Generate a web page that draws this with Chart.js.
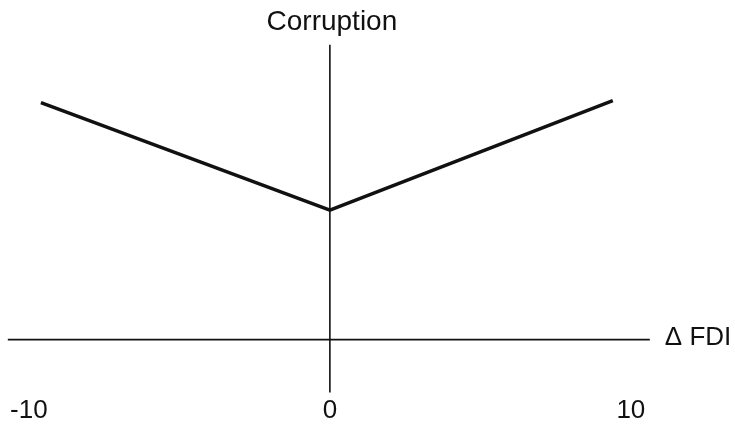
<!DOCTYPE html>
<html>
<head>
<meta charset="utf-8">
<script src="https://cdn.jsdelivr.net/npm/chart.js@4.4.1/dist/chart.umd.min.js"></script>
<style>
  html, body { margin: 0; padding: 0; background: #fff; }
  #wrap { width: 735px; height: 429px; }
</style>
</head>
<body>
<div id="wrap"><canvas id="fdiChart"></canvas></div>
<script>
// Corruption vs change in FDI - V shaped sketch
const curveX = [-9.6, 0, 9.4];
const curveY = [23.8, 13.0, 24.0];

// axis lines drawn as plain segments through the origin
const hAxisX = [-10.7, 10.63];
const hAxisY = [0, 0];
const vAxisX = [0, 0];
const vAxisY = [-5.3, 29.6];

const tickValues = [-10, 0, 10];
const yTitle = "Corruption";
const xTitle = "\u0394 FDI";

const fontFamily = "'Liberation Sans', Arial, Helvetica, sans-serif";

function toPoints(xs, ys) {
  return xs.map((x, i) => ({ x: x, y: ys[i] }));
}

// draws the two axis titles next to the ends of the axis lines
const axisTitles = {
  id: "axisTitles",
  afterDraw(chart) {
    const ctx = chart.ctx;
    const xs = chart.scales.x;
    const ys = chart.scales.y;
    ctx.save();
    ctx.fillStyle = "#111";
    ctx.font = "28px " + fontFamily;
    ctx.textAlign = "center";
    ctx.textBaseline = "alphabetic";
    ctx.fillText(yTitle, xs.getPixelForValue(0) + 2, 30);
    ctx.font = "26px " + fontFamily;
    ctx.textAlign = "left";
    ctx.fillText(xTitle, xs.getPixelForValue(hAxisX[1]) + 15, ys.getPixelForValue(0) + 5);
    ctx.restore();
  },
};

const ctx = document.getElementById("fdiChart").getContext("2d");
new Chart(ctx, {
  type: "scatter",
  data: {
    datasets: [
      {
        label: "h-axis",
        data: toPoints(hAxisX, hAxisY),
        showLine: true,
        borderColor: "#111",
        borderWidth: 1.6,
        pointRadius: 0,
      },
      {
        label: "v-axis",
        data: toPoints(vAxisX, vAxisY),
        showLine: true,
        borderColor: "#111",
        borderWidth: 1.6,
        pointRadius: 0,
      },
      {
        label: "Corruption",
        data: toPoints(curveX, curveY),
        showLine: true,
        borderColor: "#111",
        borderWidth: 3.5,
        pointRadius: 0,
        tension: 0,
      },
    ],
  },
  options: {
    responsive: true,
    maintainAspectRatio: false,
    animation: false,
    layout: { padding: 0 },
    plugins: {
      legend: { display: false },
      tooltip: { enabled: false },
      title: { display: false },
    },
    scales: {
      x: {
        type: "linear",
        min: -10.96,
        max: 13.46,
        grid: { display: false, drawTicks: false },
        border: { display: false },
        afterBuildTicks: (scale) => {
          scale.ticks = tickValues.map((v) => ({ value: v }));
        },
        ticks: {
          color: "#111",
          padding: 5,
          maxRotation: 0,
          autoSkip: false,
          font: { family: fontFamily, size: 26, lineHeight: 1.0 },
        },
      },
      y: {
        type: "linear",
        display: false,
        min: -5.36,
        max: 34.1,
      },
    },
  },
  plugins: [axisTitles],
});
</script>
</body>
</html>
